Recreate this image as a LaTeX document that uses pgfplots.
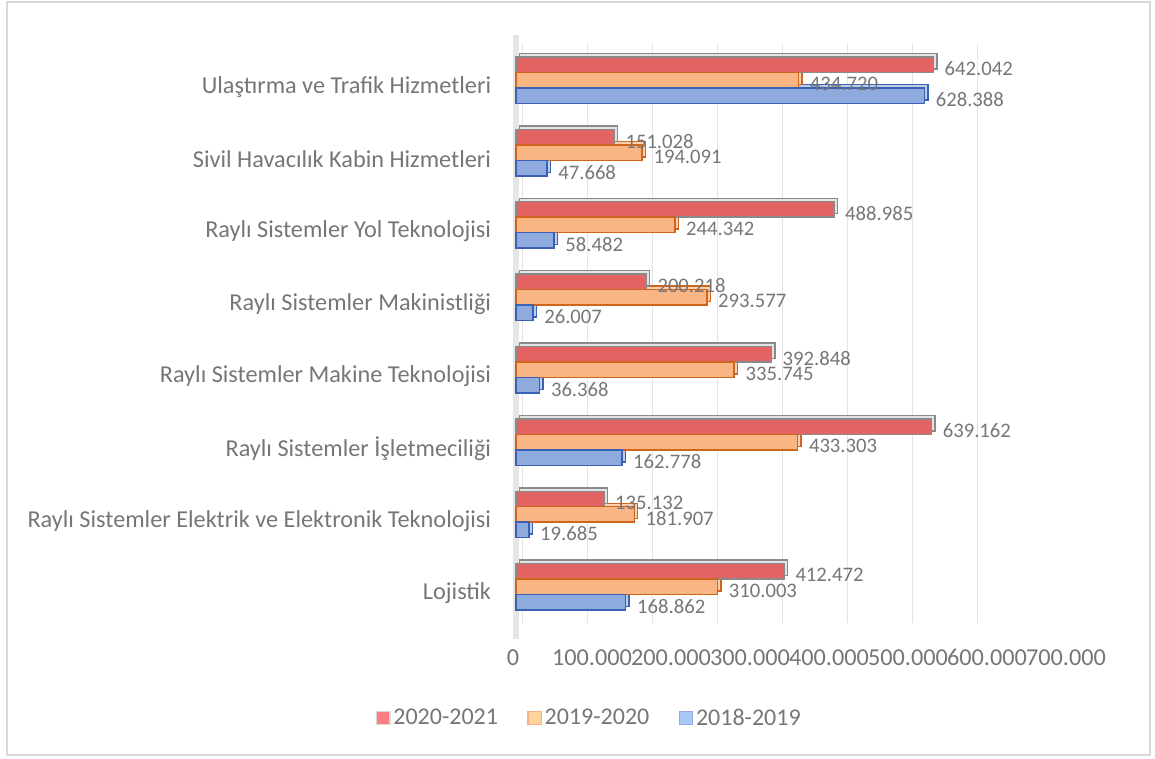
\documentclass[border=0pt]{standalone}
\usepackage{pgfplots}
\pgfplotsset{compat=1.18}
\usepackage{fontspec}
\setmainfont{Carlito}
\definecolor{txt}{HTML}{767676}
\definecolor{redF}{HTML}{E36464}
\definecolor{redE}{HTML}{8A8A8A}
\definecolor{redD}{HTML}{E4E4E4}
\definecolor{orF}{HTML}{F9B584}
\definecolor{orE}{HTML}{D0661E}
\definecolor{orD}{HTML}{FBD0B0}
\definecolor{blF}{HTML}{8FAADC}
\definecolor{blE}{HTML}{3A62B4}
\definecolor{blD}{HTML}{BCCDEB}
\definecolor{frame}{HTML}{D9D9D9}
\definecolor{grid}{HTML}{E4E4E4}
\definecolor{wall}{HTML}{E6E6E6}
\definecolor{lgR}{HTML}{FF7C80}
\definecolor{lgO}{HTML}{FFD39B}
\definecolor{lgOe}{HTML}{F4B183}
\definecolor{lgB}{HTML}{A9C9F5}
\definecolor{lgBe}{HTML}{8FAADC}
\begin{document}
\begin{tikzpicture}
\begin{axis}[
  scale only axis,
  width=341.25pt, height=434.25pt,
  xbar, bar width=11.6pt,
  xmin=0, xmax=700000,
  ymin=-0.5, ymax=7.5,
  clip=false,
  axis line style={draw=none},
  major tick length=0pt,
  scaled x ticks=false,
  xtick={0,100000,200000,300000,400000,500000,600000,700000},
  xticklabels={0,100.000,200.000,300.000,400.000,500.000,600.000,700.000},
  xticklabel style={font=\fontsize{18.2}{21}\selectfont, text=txt, anchor=center, yshift=-26pt, xshift=\ticknum*10.5pt-2.25pt},
  ytick={0,1,2,3,4,5,6,7},
  yticklabels={Lojistik,
    Raylı Sistemler Elektrik ve Elektronik Teknolojisi,
    Raylı Sistemler İşletmeciliği,
    Raylı Sistemler Makine Teknolojisi,
    Raylı Sistemler Makinistliği,
    Raylı Sistemler Yol Teknolojisi,
    Sivil Havacılık Kabin Hizmetleri,
    Ulaştırma ve Trafik Hizmetleri},
  yticklabel style={font=\fontsize{18.2}{21}\selectfont, text=txt, anchor=east, inner sep=0pt, xshift=-18.5pt, yshift=-5pt},
  xmajorgrids, grid style={draw=grid, line width=1pt, xshift=5pt},
  point meta=x,
  legend style={at={(0.162,-0.164)}, anchor=center, draw=none, fill=none,
    legend columns=3, font=\fontsize{18}{21}\selectfont, text=txt,
    /tikz/every even column/.append style={column sep=20pt}},
  legend cell align=left,
]
% left wall
\fill[wall] ([xshift=-2.5pt]axis cs:0,-0.72) rectangle ([xshift=2.5pt]axis cs:0,7.62);
% depth copies
\addplot[forget plot, bar shift=-11.6pt, fill=blD, draw=blE, line width=1.1pt, xshift=2.6pt, yshift=2.6pt] coordinates {
(168862,0) (19685,1) (162778,2) (36368,3) (26007,4) (58482,5) (47668,6) (628388,7)};
\addplot[forget plot, bar shift=0pt, fill=orD, draw=orE, line width=1.1pt, xshift=2.6pt, yshift=2.6pt] coordinates {
(310003,0) (181907,1) (433303,2) (335745,3) (293577,4) (244342,5) (194091,6) (434720,7)};
\addplot[forget plot, bar shift=11.6pt, fill=redD, draw=redE, line width=1.1pt, xshift=2.6pt, yshift=2.6pt] coordinates {
(412472,0) (135132,1) (639162,2) (392848,3) (200218,4) (488985,5) (151028,6) (642042,7)};
% front bars
\addplot[bar shift=11.6pt, fill=redF, draw=redE, line width=1.1pt,
  nodes near coords={\pgfmathprintnumber[fixed,precision=0,1000 sep={.},assume math mode=true]{\pgfplotspointmeta}},
  nodes near coords style={anchor=west, inner sep=0pt, xshift=8pt, yshift=-3pt, text=txt, font=\fontsize{15.5}{18}\selectfont},
  legend image code/.code={\draw[fill=lgR, draw=frame, line width=1pt] (-4pt,-5pt) rectangle (6pt,5pt);}]
coordinates {
(412472,0) (135132,1) (639162,2) (392848,3) (200218,4) (488985,5) (151028,6) (642042,7)};
\addlegendentry{2020-2021}
\addplot[bar shift=0pt, fill=orF, draw=orE, line width=1.1pt,
  nodes near coords={\pgfmathprintnumber[fixed,precision=0,1000 sep={.},assume math mode=true]{\pgfplotspointmeta}},
  nodes near coords style={anchor=west, inner sep=0pt, xshift=8pt, yshift=-3pt, text=txt, font=\fontsize{15.5}{18}\selectfont},
  legend image code/.code={\draw[fill=lgO, draw=lgOe, line width=1pt] (-4pt,-5pt) rectangle (6pt,5pt);}]
coordinates {
(310003,0) (181907,1) (433303,2) (335745,3) (293577,4) (244342,5) (194091,6) (434720,7)};
\addlegendentry{2019-2020}
\addplot[bar shift=-11.6pt, fill=blF, draw=blE, line width=1.1pt,
  nodes near coords={\pgfmathprintnumber[fixed,precision=0,1000 sep={.},assume math mode=true]{\pgfplotspointmeta}},
  nodes near coords style={anchor=west, inner sep=0pt, xshift=8pt, yshift=-3pt, text=txt, font=\fontsize{15.5}{18}\selectfont},
  legend image code/.code={\draw[fill=lgB, draw=lgBe, line width=1pt] (-4pt,-5pt) rectangle (6pt,5pt);}]
coordinates {
(168862,0) (19685,1) (162778,2) (36368,3) (26007,4) (58482,5) (47668,6) (628388,7)};
\addlegendentry{2018-2019}
% frame and page box
\path ([xshift=-387pt,yshift=-101.25pt]rel axis cs:0,0) rectangle ([xshift=479.25pt,yshift=467.25pt]rel axis cs:0,0);
\draw[frame, line width=1pt] ([xshift=-381.75pt,yshift=-99pt]rel axis cs:0,0) rectangle ([xshift=475.5pt,yshift=465.75pt]rel axis cs:0,0);
\end{axis}
\end{tikzpicture}
\end{document}
